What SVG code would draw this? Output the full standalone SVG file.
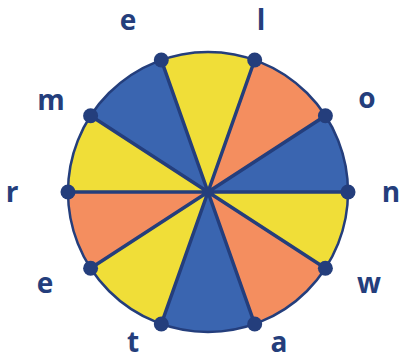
<svg xmlns="http://www.w3.org/2000/svg" width="400" height="360" viewBox="0 0 400 360">
<style>
.b{fill:#3a65b0}.y{fill:#f0de38}.o{fill:#f48e5f}
.sp{stroke:#243e7c;stroke-width:3.5;fill:none}
.rim{stroke:#243e7c;stroke-width:2.5;fill:none}
.d{fill:#243e7c}
text{font-family:"Open Sans","Liberation Sans",sans-serif;font-weight:700;font-size:28px;fill:#243e7c;text-anchor:middle}
</style>
<rect width="400" height="360" fill="#fff"/>
<g id="sectors">
<path class="b" d="M208,192 L348,192 A140,140 0 0 0 325.4,115.8 Z"/>
<path class="o" d="M208,192 L325.4,115.8 A140,140 0 0 0 254.7,60 Z"/>
<path class="y" d="M208,192 L254.7,60 A140,140 0 0 0 161.3,60 Z"/>
<path class="b" d="M208,192 L161.3,60 A140,140 0 0 0 90.6,115.8 Z"/>
<path class="y" d="M208,192 L90.6,115.8 A140,140 0 0 0 68,192 Z"/>
<path class="o" d="M208,192 L68,192 A140,140 0 0 0 90.6,268.2 Z"/>
<path class="y" d="M208,192 L90.6,268.2 A140,140 0 0 0 161.3,324 Z"/>
<path class="b" d="M208,192 L161.3,324 A140,140 0 0 0 254.7,324 Z"/>
<path class="o" d="M208,192 L254.7,324 A140,140 0 0 0 325.4,268.2 Z"/>
<path class="y" d="M208,192 L325.4,268.2 A140,140 0 0 0 348,192 Z"/>
<circle class="rim" cx="208" cy="192" r="140"/>
</g>
<g id="connectors">
<path class="sp" d="M208,192 L348,192 M208,192 L325.4,115.8 M208,192 L254.7,60 M208,192 L161.3,60 M208,192 L90.6,115.8 M208,192 L68,192 M208,192 L90.6,268.2 M208,192 L161.3,324 M208,192 L254.7,324 M208,192 L325.4,268.2"/>
</g>
<g id="node-n"><circle class="d" cx="348" cy="192" r="7.5"/><text x="391" y="202">n</text></g>
<g id="node-o"><circle class="d" cx="325.4" cy="115.8" r="7.5"/><text x="367" y="108">o</text></g>
<g id="node-l"><circle class="d" cx="254.7" cy="60" r="7.5"/><text x="261" y="30">l</text></g>
<g id="node-e1"><circle class="d" cx="161.3" cy="60" r="7.5"/><text x="128" y="30">e</text></g>
<g id="node-m"><circle class="d" cx="90.6" cy="115.8" r="7.5"/><text x="51" y="110">m</text></g>
<g id="node-r"><circle class="d" cx="68" cy="192" r="7.5"/><text x="12" y="202">r</text></g>
<g id="node-e2"><circle class="d" cx="90.6" cy="268.2" r="7.5"/><text x="45" y="293">e</text></g>
<g id="node-t"><circle class="d" cx="161.3" cy="324" r="7.5"/><text x="133" y="352">t</text></g>
<g id="node-a"><circle class="d" cx="254.7" cy="324" r="7.5"/><text x="279" y="352">a</text></g>
<g id="node-w"><circle class="d" cx="325.4" cy="268.2" r="7.5"/><text x="369" y="293">w</text></g>
</svg>
